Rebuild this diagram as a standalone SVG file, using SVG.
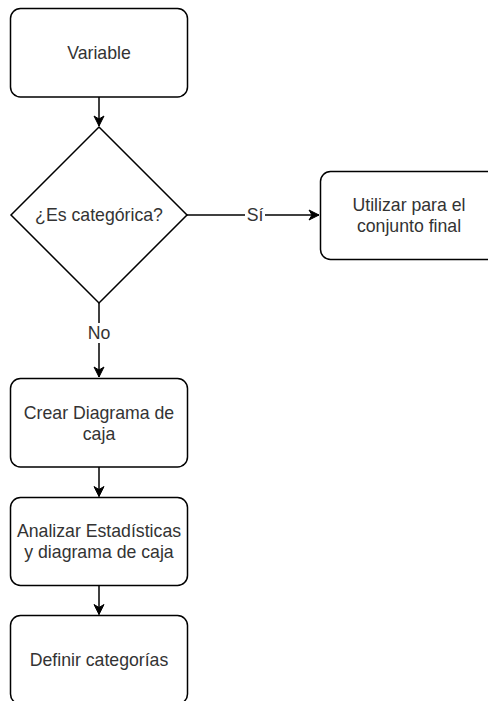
<svg xmlns="http://www.w3.org/2000/svg" width="488" height="701" viewBox="0 0 488 701">
<style>
.box{fill:#fff;stroke:#000;stroke-width:1.5}
.t{font-family:"Liberation Sans",Arial,sans-serif;font-size:17.7px;fill:#333;text-anchor:middle;dominant-baseline:central}
.c{fill:none;stroke:#000;stroke-width:1.5}
.lbl{fill:#fff}
</style>
<defs>
<marker id="arr" markerUnits="userSpaceOnUse" viewBox="0 0 12 12" markerWidth="12" markerHeight="12" refX="11" refY="6" orient="auto">
<path d="M1,1 L11,6 L1,11 L4,6 Z" fill="#000" stroke="#000" stroke-width="1"/>
</marker>
</defs>
<rect width="488" height="701" fill="#fff"/>
<g id="connectors">
<path class="c" d="M99,97 L99,126" marker-end="url(#arr)"/>
<path class="c" d="M187,215 L319,215" marker-end="url(#arr)"/>
<rect class="lbl" x="245" y="205" width="20" height="20"/>
<text class="t" x="255" y="215">Sí</text>
<path class="c" d="M99,303 L99,377" marker-end="url(#arr)"/>
<rect class="lbl" x="86" y="323" width="26" height="20"/>
<text class="t" x="99" y="333">No</text>
<path class="c" d="M99,467 L99,496.5" marker-end="url(#arr)"/>
<path class="c" d="M99,585.5 L99,614.5" marker-end="url(#arr)"/>
</g>
<g id="variable">
<rect class="box" x="10.5" y="8.5" width="177" height="88.5" rx="10"/>
<text class="t" x="99" y="53">Variable</text>
</g>
<g id="es-categorica">
<polygon class="box" points="99,127 187,215 99,303 11,215"/>
<text class="t" x="99" y="215">¿Es categórica?</text>
</g>
<g id="utilizar">
<rect class="box" x="320.5" y="171.5" width="177" height="88" rx="10"/>
<text class="t" x="409" y="205">Utilizar para el</text>
<text class="t" x="409" y="226">conjunto final</text>
</g>
<g id="crear-diagrama">
<rect class="box" x="10.5" y="378.5" width="177" height="88.5" rx="10"/>
<text class="t" x="99" y="412.5">Crear Diagrama de</text>
<text class="t" x="99" y="433.5">caja</text>
</g>
<g id="analizar">
<rect class="box" x="10.5" y="497.5" width="177" height="88" rx="10"/>
<text class="t" x="99" y="531">Analizar Estadísticas</text>
<text class="t" x="99" y="552">y diagrama de caja</text>
</g>
<g id="definir">
<rect class="box" x="10.5" y="615.5" width="177" height="88.5" rx="10"/>
<text class="t" x="99" y="660">Definir categorías</text>
</g>
</svg>
